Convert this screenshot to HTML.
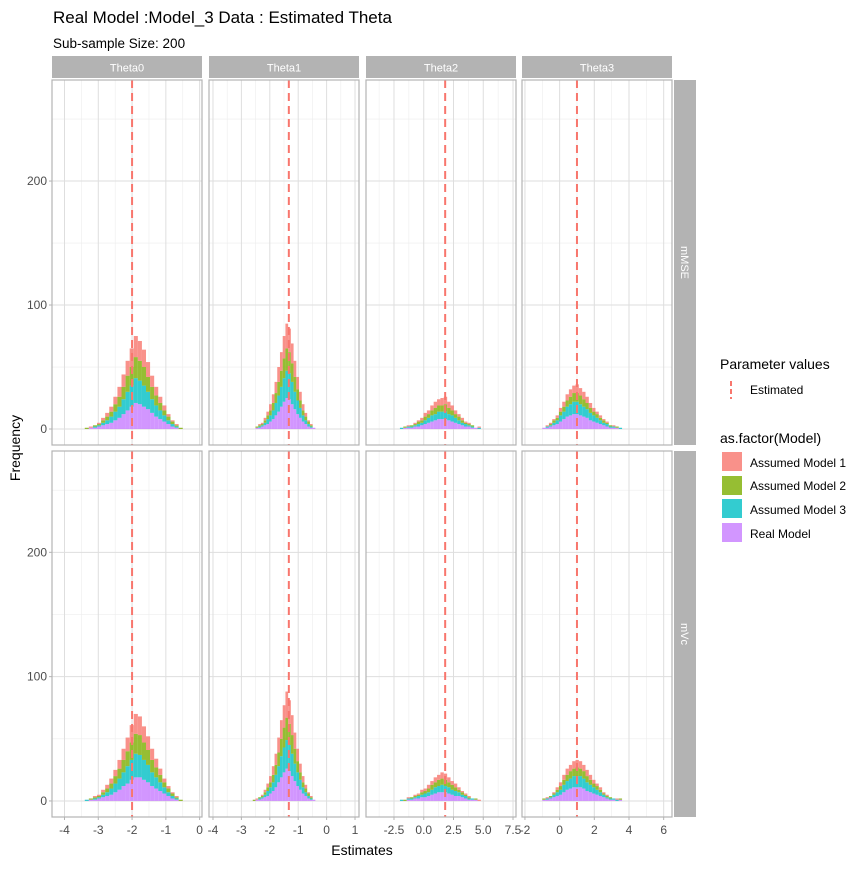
<!DOCTYPE html>
<html><head><meta charset="utf-8"><style>
body{margin:0;background:#fff;font-family:"Liberation Sans",Arial,sans-serif;}
svg text{font-family:"Liberation Sans",Arial,sans-serif;}
</style></head><body>
<svg id="chart" width="864" height="864" viewBox="0 0 864 864" xmlns="http://www.w3.org/2000/svg">
<rect x="0" y="0" width="864" height="864" fill="#fff"/>
<text x="53" y="23" font-size="17" fill="#000">Real Model :Model_3 Data : Estimated Theta</text>
<text x="53" y="48" font-size="13.5" fill="#000">Sub-sample Size: 200</text>
<text x="0" y="0" font-size="14" fill="#000" text-anchor="middle" transform="translate(20,448) rotate(-90)">Frequency</text>
<text x="362" y="855" font-size="14" fill="#000" text-anchor="middle">Estimates</text>
<g id="panels"></g>
<g>
<text x="720" y="369" font-size="14" fill="#000">Parameter values</text>
<line x1="731" y1="381" x2="731" y2="399" stroke="#f8766d" stroke-width="2" stroke-dasharray="5,3"/>
<text x="750" y="394" font-size="12" fill="#000">Estimated</text>
<text x="720" y="443" font-size="14" fill="#000">as.factor(Model)</text>
<rect x="722" y="452" width="20" height="19" fill="#f8766d" opacity="0.8"/>
<text x="750" y="467" font-size="12" fill="#000">Assumed Model 1</text>
<rect x="722" y="476" width="20" height="19" fill="#7cae00" opacity="0.8"/>
<text x="750" y="490" font-size="12" fill="#000">Assumed Model 2</text>
<rect x="722" y="499" width="20" height="19" fill="#00bfc4" opacity="0.8"/>
<text x="750" y="514" font-size="12" fill="#000">Assumed Model 3</text>
<rect x="722" y="523" width="20" height="19" fill="#c77cff" opacity="0.8"/>
<text x="750" y="538" font-size="12" fill="#000">Real Model</text>
</g>
</svg>
<script>
// ---- data ----
const colLabels = ["Theta0","Theta1","Theta2","Theta3"];
const rowLabels = ["mMSE","mVc"];
const estimatedTheta = [-2, -1.33, 1.8, 1];
const xTicks0 = [-4,-3,-2,-1,0];
const xTicks1 = [-4,-3,-2,-1,0,1];
const xTicks2 = [-2.5,0,2.5,5,7.5];
const xTicks3 = [-2,0,2,4,6];
const xTickLabels2 = ["-2.5","0.0","2.5","5.0","7.5"];
const yTicks = [0,100,200];
const binStart = [-3.4, -2.6, -2.0, -1.0];
const binEnd = [-0.5, -0.3, 4.8, 3.6];
// row 1 (mMSE) series: real, model3, model2, model1
const r1c0_real = [0,1,1,2,3,4,5,7,9,12,15,18,21,20,18,16,13,10,8,6,4,2,1,0];
const r1c0_m3 = [0,0,1,1,2,3,5,7,9,12,15,17,20,19,17,14,11,9,7,5,3,2,1,0];
const r1c0_m2 = [1,0,1,1,2,3,4,6,8,10,13,15,17,16,15,12,10,8,6,4,3,2,1,1];
const r1c0_m1 = [0,1,0,1,2,3,4,6,8,10,12,15,17,16,14,12,9,7,5,4,2,1,1,0];
const r1c1_real = [0,1,1,2,3,4,6,8,11,14,18,22,25,24,20,16,12,9,6,4,2,1,1,0];
const r1c1_m3 = [0,0,1,1,2,4,5,7,10,13,16,19,22,21,18,14,11,8,5,3,2,1,0,0];
const r1c1_m2 = [0,1,1,1,2,3,4,6,8,11,13,16,18,17,15,12,9,6,4,3,2,1,0,0];
const r1c1_m1 = [0,0,1,1,2,3,5,7,9,12,15,18,20,19,16,13,10,7,5,3,1,1,0,0];
const r1c2_real = [0,1,1,1,2,2,3,4,5,6,7,8,8,8,7,6,5,4,3,2,2,1,1,0];
const r1c2_m3 = [1,0,1,1,1,2,2,3,4,5,5,6,6,6,5,5,4,3,2,2,1,1,0,1];
const r1c2_m2 = [0,1,0,1,1,2,2,3,3,4,5,5,5,6,5,4,3,3,2,1,1,1,0,0];
const r1c2_m1 = [0,0,1,0,1,1,2,3,3,4,5,5,6,6,5,4,3,2,2,1,1,0,0,1];
const r1c3_real = [1,1,2,3,4,6,8,10,11,12,12,11,10,9,7,6,5,4,3,2,1,1,1,0];
const r1c3_m3 = [0,1,1,2,3,5,6,8,9,10,10,9,8,7,6,5,4,3,2,2,1,1,0,1];
const r1c3_m2 = [0,0,1,2,2,3,4,5,6,7,7,7,6,5,4,3,3,2,2,1,1,0,1,0];
const r1c3_m1 = [0,1,1,1,2,3,4,5,6,6,7,6,6,5,4,3,2,2,1,1,0,1,0,0];
// row 2 (mVc)
const r2c0_real = [0,1,1,2,3,4,5,7,9,12,14,17,19,19,17,15,12,10,8,6,4,2,1,0];
const r2c0_m3 = [1,0,1,1,2,3,5,7,9,11,14,16,19,18,16,14,11,9,7,5,3,2,1,0];
const r2c0_m2 = [0,1,1,1,2,3,4,6,8,10,12,14,16,16,14,12,10,8,6,4,3,2,1,1];
const r2c0_m1 = [0,0,1,1,2,3,4,5,7,9,11,14,16,15,13,11,9,7,5,3,2,1,1,0];
const r2c1_real = [0,1,1,2,3,4,6,8,11,15,19,23,26,24,20,16,12,9,6,4,2,1,1,0];
const r2c1_m3 = [0,0,1,1,2,4,5,7,10,13,17,20,23,21,18,14,11,8,5,3,2,1,0,0];
const r2c1_m2 = [1,0,1,1,2,3,4,6,8,11,14,16,18,17,15,12,9,6,4,3,2,1,0,0];
const r2c1_m1 = [0,1,0,1,2,3,5,7,9,12,15,18,21,19,16,13,10,7,5,3,1,1,0,0];
const r2c2_real = [0,0,1,1,2,2,3,3,4,5,6,7,7,7,6,5,4,4,3,2,1,1,1,0];
const r2c2_m3 = [1,0,1,1,1,2,2,3,3,4,5,5,6,5,5,4,4,3,2,2,1,1,0,0];
const r2c2_m2 = [0,1,0,1,1,1,2,2,3,4,4,5,5,5,4,4,3,2,2,1,1,0,1,0];
const r2c2_m1 = [0,0,1,0,1,1,2,2,3,3,4,4,5,5,4,3,3,2,1,1,1,0,0,1];
const r2c3_real = [1,1,2,3,4,5,7,9,10,11,11,11,10,8,7,6,5,4,3,2,1,1,0,1];
const r2c3_m3 = [0,1,1,2,3,4,6,7,8,9,9,9,8,7,6,5,4,3,2,1,1,1,1,0];
const r2c3_m2 = [1,0,1,1,2,3,4,5,6,6,7,6,6,5,4,3,3,2,1,1,1,0,0,1];
const r2c3_m1 = [0,1,0,1,2,3,4,5,5,6,6,6,5,5,4,3,2,2,1,1,0,0,1,0];
const seriesColors = ["#c77cff","#00bfc4","#7cae00","#f8766d"];
const seriesNames = ["real-model","assumed-model-3","assumed-model-2","assumed-model-1"];

const panelData = [
 [[r1c0_real,r1c0_m3,r1c0_m2,r1c0_m1],[r1c1_real,r1c1_m3,r1c1_m2,r1c1_m1],[r1c2_real,r1c2_m3,r1c2_m2,r1c2_m1],[r1c3_real,r1c3_m3,r1c3_m2,r1c3_m1]],
 [[r2c0_real,r2c0_m3,r2c0_m2,r2c0_m1],[r2c1_real,r2c1_m3,r2c1_m2,r2c1_m1],[r2c2_real,r2c2_m3,r2c2_m2,r2c2_m1],[r2c3_real,r2c3_m3,r2c3_m2,r2c3_m1]]
];
const xTicksAll = [xTicks0,xTicks1,xTicks2,xTicks3];

// ---- layout ----
const colX = [[52,202],[209,359],[366,516],[522,672]];
const colDomain = [[-4.37,0.07],[-4.14,1.14],[-4.85,7.75],[-2.17,6.48]];
const rowY = [[80,445],[451,817]];
const yDomain = [-12.9, 281.5];
const NS = "http://www.w3.org/2000/svg";
const root = document.getElementById("panels");
function mk(tag, attrs, parent){const e=document.createElementNS(NS,tag);for(const k in attrs)e.setAttribute(k,attrs[k]);(parent||root).appendChild(e);return e;}
function xScale(c,v){const [a,b]=colX[c],[d0,d1]=colDomain[c];return a+(v-d0)/(d1-d0)*(b-a);}
function yScale(r,v){const [t,b]=rowY[r];return b-(v-yDomain[0])/(yDomain[1]-yDomain[0])*(b-t);}

for(let c=0;c<4;c++){
  const s=mk("rect",{x:colX[c][0],y:56,width:colX[c][1]-colX[c][0],height:22,fill:"#b3b3b3"});
  
  
  const t=mk("text",{x:(colX[c][0]+colX[c][1])/2,y:71.5,"font-size":11,fill:"#fff","text-anchor":"middle"});
  t.textContent=colLabels[c];
  
  
}
for(let r=0;r<2;r++){
  const s=mk("rect",{x:674,y:rowY[r][0],width:22,height:rowY[r][1]-rowY[r][0],fill:"#b3b3b3"});
  
  
  const cy=(rowY[r][0]+rowY[r][1])/2;
  const t=mk("text",{x:0,y:0,"font-size":11,fill:"#fff","text-anchor":"middle",transform:"translate(681,"+cy+") rotate(90)"});
  t.textContent=rowLabels[r];
  
  
}

for(let r=0;r<2;r++){
  for(let c=0;c<4;c++){
    const g=mk("g",{});
    
    
    const [x0,x1]=colX[c],[y0,y1]=rowY[r];
    const tk=xTicksAll[c];
    const step=tk[1]-tk[0];
    for(let i=-1;i<tk.length;i++){
      const v=tk[0]+step*(i+0.5);
      const px=xScale(c,v);
      if(px>x0&&px<x1){const l=mk("line",{x1:px,x2:px,y1:y0,y2:y1,stroke:"#ededed","stroke-width":0.6},g);}
    }
    for(const v of [50,150,250]){
      const py=yScale(r,v);const l=mk("line",{x1:x0,x2:x1,y1:py,y2:py,stroke:"#ededed","stroke-width":0.6},g);
      
    }
    for(const v of tk){
      const px=xScale(c,v);
      const l=mk("line",{x1:px,x2:px,y1:y0,y2:y1,stroke:"#dedede","stroke-width":1},g);
      
    }
    for(const v of yTicks){
      const py=yScale(r,v);
      const l=mk("line",{x1:x0,x2:x1,y1:py,y2:py,stroke:"#dedede","stroke-width":1},g);
      
    }
    const series=panelData[r][c];
    const n=series[0].length;
    const bw=(binEnd[c]-binStart[c])/n;
    for(let i=0;i<n;i++){
      let cum=0;
      for(let s=0;s<4;s++){
        const v=series[s][i];
        if(v<=0){continue;}
        const xa=xScale(c,binStart[c]+i*bw),xb=xScale(c,binStart[c]+(i+1)*bw);
        const ya=yScale(r,cum+v),yb=yScale(r,cum);
        const b=mk("rect",{x:xa,y:ya,width:Math.max(0.5,xb-xa),height:yb-ya,fill:seriesColors[s],opacity:0.8},g);
        
        
        cum+=v;
      }
    }
    const ex=xScale(c,estimatedTheta[c]);
    const el=mk("line",{x1:ex,x2:ex,y1:y0,y2:y1,stroke:"#f8766d","stroke-width":2,"stroke-dasharray":"8,5"},g);
    
    
    const bd=mk("rect",{x:x0,y:y0,width:x1-x0,height:y1-y0,fill:"none",stroke:"#b3b3b3","stroke-width":1.2},g);
    
    
    if(c===0){
      for(const v of yTicks){
        const py=yScale(r,v);
        const tl=mk("line",{x1:x0-3,x2:x0,y1:py,y2:py,stroke:"#b3b3b3"});
        
        const t=mk("text",{x:x0-5,y:py+4,"font-size":12,fill:"#4d4d4d","text-anchor":"end"});
        t.textContent=String(v);
        
      }
    }
    if(r===1){
      tk.forEach((v,i)=>{
        const px=xScale(c,v);
        const tl=mk("line",{x1:px,x2:px,y1:y1,y2:y1+3,stroke:"#b3b3b3"});
        
        const t=mk("text",{x:px,y:y1+17,"font-size":12,fill:"#4d4d4d","text-anchor":"middle"});
        t.textContent=(c===2?xTickLabels2[i]:String(v));
        
      });
    }
  }
}
</script>
</body></html>
